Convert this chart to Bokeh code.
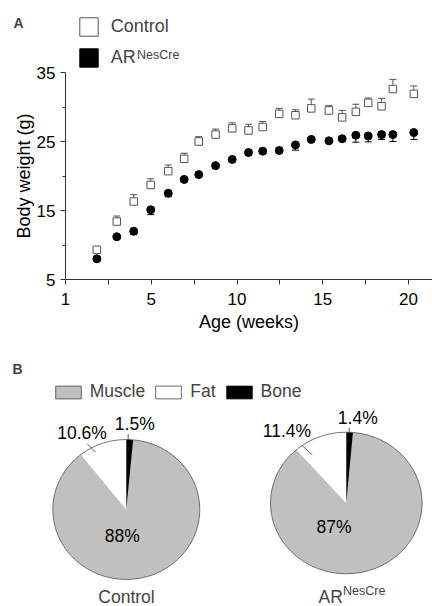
import numpy as np
from bokeh.plotting import figure
from bokeh.models import (Range1d, FixedTicker, Whisker, TeeHead, ColumnDataSource,
                          Legend, LegendItem, Label, LinearAxis)
from bokeh.embed import file_html
from bokeh.resources import INLINE
from bokeh.core.properties import value

FONT = "Liberation Sans"

# ---------------- Panel A data ----------------
age = [1.83, 2.99, 3.98, 4.97, 5.99, 6.92, 7.77, 8.75, 9.72, 10.67, 11.5,
       12.46, 13.41, 14.33, 15.36, 16.13, 16.93, 17.65, 18.43, 19.09, 20.31]
control_bw = [9.3, 13.4, 16.3, 18.7, 20.7, 22.5, 25.0, 26.0, 26.9, 26.6, 27.1,
              29.0, 28.8, 29.8, 29.5, 28.5, 29.3, 30.6, 30.1, 32.6, 31.9]
control_sem = [0.3, 0.8, 1.0, 0.9, 0.9, 0.8, 0.7, 0.8, 0.8, 0.9, 0.8,
               0.8, 0.8, 1.35, 0.7, 1.0, 1.1, 0.7, 1.15, 1.4, 1.15]
ar_bw = [8.0, 11.2, 12.0, 15.1, 17.5, 19.5, 20.2, 21.5, 22.4, 23.4, 23.6,
         23.7, 24.5, 25.3, 25.1, 25.4, 25.9, 25.8, 26.0, 26.0, 26.3]
ar_sem = [0.3, 0.3, 0.5, 0.7, 0.5, 0.3, 0.3, 0.3, 0.3, 0.3, 0.3,
          0.3, 0.75, 0.3, 0.3, 0.3, 1.0, 0.85, 0.7, 1.0, 1.0]
x_ticks = [0, 5, 10, 15, 20]
x_tick_labels = ["1", "5", "10", "15", "20"]
y_ticks = [5, 15, 25, 35]
y_minor = [10, 20, 30]

# ---------------- Panel B data ----------------
components = ["Muscle", "Fat", "Bone"]
component_colors = ["#c0c0c0", "#ffffff", "#000000"]
control_pct = [88, 10.6, 1.5]
ar_pct = [87, 11.4, 1.4]

# ---------------- layout constants (pixels) ----------------
W, H = 432, 606
A_X0_PX, A_X_PPU = 65.0, 17.15      # x=0 position and px per unit (panel A)
A_Y0_PX, A_Y_PPU = 279.0, 6.9       # image-y of body weight 5, px per gram
A_Y0_VAL = 5.0
AXC = "#333333"

p = figure(width=W, height=H, x_range=Range1d(0, W), y_range=Range1d(0, H),
           x_axis_type=None, y_axis_type=None,
           output_backend="svg", toolbar_location=None,
           min_border=0, min_border_left=0, min_border_right=0,
           min_border_top=0, min_border_bottom=0)
p.outline_line_color = None
p.background_fill_color = "white"

age_end = (W - A_X0_PX) / A_X_PPU
p.extra_x_ranges = {"age": Range1d(-A_X0_PX / A_X_PPU, age_end)}
p.extra_y_ranges = {"bw": Range1d(A_Y0_VAL - (H - A_Y0_PX) / A_Y_PPU,
                                  A_Y0_VAL + A_Y0_PX / A_Y_PPU)}

# ================= Panel A =================
srcC = ColumnDataSource(dict(x=age, y=control_bw,
                             up=[v + e for v, e in zip(control_bw, control_sem)]))
srcA = ColumnDataSource(dict(x=age, y=ar_bw,
                             lo=[v - e for v, e in zip(ar_bw, ar_sem)]))

wC = Whisker(source=srcC, base="x", upper="up", lower="y", dimension="height",
             upper_head=TeeHead(size=7, line_color="#555555", line_width=1),
             lower_head=None, line_color="#555555", line_width=1, level="underlay",
             x_range_name="age", y_range_name="bw")
wA = Whisker(source=srcA, base="x", upper="y", lower="lo", dimension="height",
             lower_head=TeeHead(size=7, line_color="black", line_width=1),
             upper_head=None, line_color="black", line_width=1, level="underlay",
             x_range_name="age", y_range_name="bw")
p.add_layout(wC)
p.add_layout(wA)

p.scatter(x="x", y="y", source=srcC, marker="square", size=7.5,
          fill_color="white", line_color="#555555", line_width=1,
          x_range_name="age", y_range_name="bw")
p.scatter(x="x", y="y", source=srcA, marker="circle", size=8,
          fill_color="black", line_color="black",
          x_range_name="age", y_range_name="bw")

xa = LinearAxis(x_range_name="age", y_range_name="bw", fixed_location=y_ticks[0],
                bounds=(x_ticks[0], age_end))
xa.ticker = FixedTicker(ticks=x_ticks,
                        minor_ticks=[(a + b) / 2 for a, b in zip(x_ticks[:-1], x_ticks[1:])])
xa.major_label_overrides = {t: l for t, l in zip(x_ticks, x_tick_labels)}
xa.axis_label = "Age (weeks)"
xa.major_tick_out = 5
xa.minor_tick_out = 5
xa.major_label_standoff = 8
xa.axis_label_standoff = 4

ya = LinearAxis(x_range_name="age", y_range_name="bw", fixed_location=x_ticks[0],
                bounds=(y_ticks[0], y_ticks[-1]))
ya.ticker = FixedTicker(ticks=y_ticks, minor_ticks=y_minor)
ya.axis_label = "Body weight (g)"
ya.major_tick_out = 5
ya.minor_tick_out = 3
ya.major_label_standoff = 5
ya.axis_label_standoff = 0

for ax in (xa, ya):
    ax.major_tick_in = 0
    ax.minor_tick_in = 0
    ax.axis_line_color = AXC
    ax.major_tick_line_color = AXC
    ax.minor_tick_line_color = AXC
    ax.major_label_text_font = FONT
    ax.major_label_text_font_size = "17px"
    ax.major_label_text_color = "black"
    ax.axis_label_text_font = FONT
    ax.axis_label_text_font_size = "18px"
    ax.axis_label_text_font_style = "normal"
    ax.axis_label_text_color = "black"
p.add_layout(xa, "below")
p.add_layout(ya, "left")

# legend proxies (hidden rect glyphs of the same data, drawn as boxes in the legend)
proxyC = p.rect(x="x", y="y", width=0.1, height=0.1, source=srcC, fill_color="white",
                line_color="#555555", line_width=1, visible=False,
                x_range_name="age", y_range_name="bw")
proxyA = p.rect(x="x", y="y", width=0.1, height=0.1, source=srcA, fill_color="black",
                line_color="black", line_width=1, visible=False,
                x_range_name="age", y_range_name="bw")
legendA = Legend(items=[LegendItem(label="Control", renderers=[proxyC]),
                        LegendItem(label="AR", renderers=[proxyA])],
                 location=(76.7, H - 14.7 - 54), orientation="vertical",
                 glyph_width=23, glyph_height=23, label_height=23, spacing=8,
                 padding=0, margin=0, label_standoff=11,
                 border_line_alpha=0, background_fill_alpha=0,
                 label_text_font=FONT, label_text_font_size="18px")
p.add_layout(legendA)


def put_text(x, y_img, text, size, align="left", bold=False):
    p.add_layout(Label(x=x, y=H - y_img, text=text, text_font=FONT, text_font_size=size,
                       text_align=align, text_baseline="middle",
                       text_font_style="bold" if bold else "normal"))


put_text(136.5, 54.0, "NesCre", "12.5px")
put_text(13, 22.8, "A", "14px", bold=True)

# ================= Panel B =================
# pie layout: centre x, centre y, radius x, radius y (pixels, y measured from bottom)
pie_layout = [(125.8, H - 509.0, 73.5, 70.0), (345.8, H - 502.5, 75.8, 70.8)]
pie_values = [control_pct, ar_pct]
draw_order = [2, 0, 1]  # clockwise from 12 o'clock: Bone, Muscle, Fat

slice_xs = {c: [] for c in components}
slice_ys = {c: [] for c in components}
for (cx, cy, rx, ry), vals in zip(pie_layout, pie_values):
    total = sum(vals)
    a = np.pi / 2
    for k in draw_order:
        b = a - 2 * np.pi * vals[k] / total
        th = np.linspace(a, b, 120)
        slice_xs[components[k]].append([cx] + list(cx + rx * np.cos(th)))
        slice_ys[components[k]].append([cy] + list(cy + ry * np.sin(th)))
        a = b

for c, col in zip(components, component_colors):
    p.patches(xs=slice_xs[c], ys=slice_ys[c], fill_color=col, line_color=None)

p.ellipse(x=[l[0] for l in pie_layout], y=[l[1] for l in pie_layout],
          width=[2 * l[2] for l in pie_layout], height=[2 * l[3] for l in pie_layout],
          fill_alpha=0, line_color="#555555", line_width=0.8)

# percentage labels (muscle, fat, bone) per pie: left x, text centre (image y)
label_pos = [[(104.3, 535.8), (56.7, 432.0), (114.3, 423.2)],
             [(316.0, 526.7), (262.3, 430.8), (337.3, 417.5)]]
tx, ty, tt = [], [], []
for pos, vals in zip(label_pos, pie_values):
    for (x, yi), v in zip(pos, vals):
        tx.append(x)
        ty.append(H - yi)
        tt.append(f"{v:g}%")
p.text(x=tx, y=ty, text=tt, text_font=value(FONT), text_font_size="17.5px",
       text_align="left", text_baseline="middle", text_color="black")

# leader lines (image coordinates)
lead = [((86.7, 443.3), (95.0, 451.7)), ((127.7, 433.5), (127.7, 439.5)),
        ((301.7, 445.0), (311.7, 454.3)), ((348.7, 427.2), (348.7, 432.0))]
p.segment(x0=[s[0][0] for s in lead], y0=[H - s[0][1] for s in lead],
          x1=[s[1][0] for s in lead], y1=[H - s[1][1] for s in lead],
          line_color="#333333", line_width=0.8)

# group labels under the pies
put_text(126, 596.5, "Control", "17.5px", align="center")
put_text(318, 596.5, "AR", "17.5px")
put_text(342.5, 590.5, "NesCre", "12.5px")
put_text(12, 368.5, "B", "14px", bold=True)

# legend proxies for the components (hidden outlined copies of the slices)
leg_r = [p.patches(xs=slice_xs[c], ys=slice_ys[c], fill_color=col,
                   line_color="#444444" if col != "#000000" else "black",
                   line_width=0.8, visible=False)
         for c, col in zip(components, component_colors)]
legendB = Legend(items=[LegendItem(label=n, renderers=[r]) for n, r in zip(components, leg_r)],
                 orientation="horizontal", location=(51.8, H - 382.4 - 20),
                 glyph_width=32, glyph_height=16, label_height=16, spacing=7,
                 padding=0, margin=0, label_standoff=6,
                 border_line_alpha=0, background_fill_alpha=0,
                 label_text_font=FONT, label_text_font_size="17.5px")
p.add_layout(legendB)

open("out.html", "w").write(file_html(p, INLINE))
